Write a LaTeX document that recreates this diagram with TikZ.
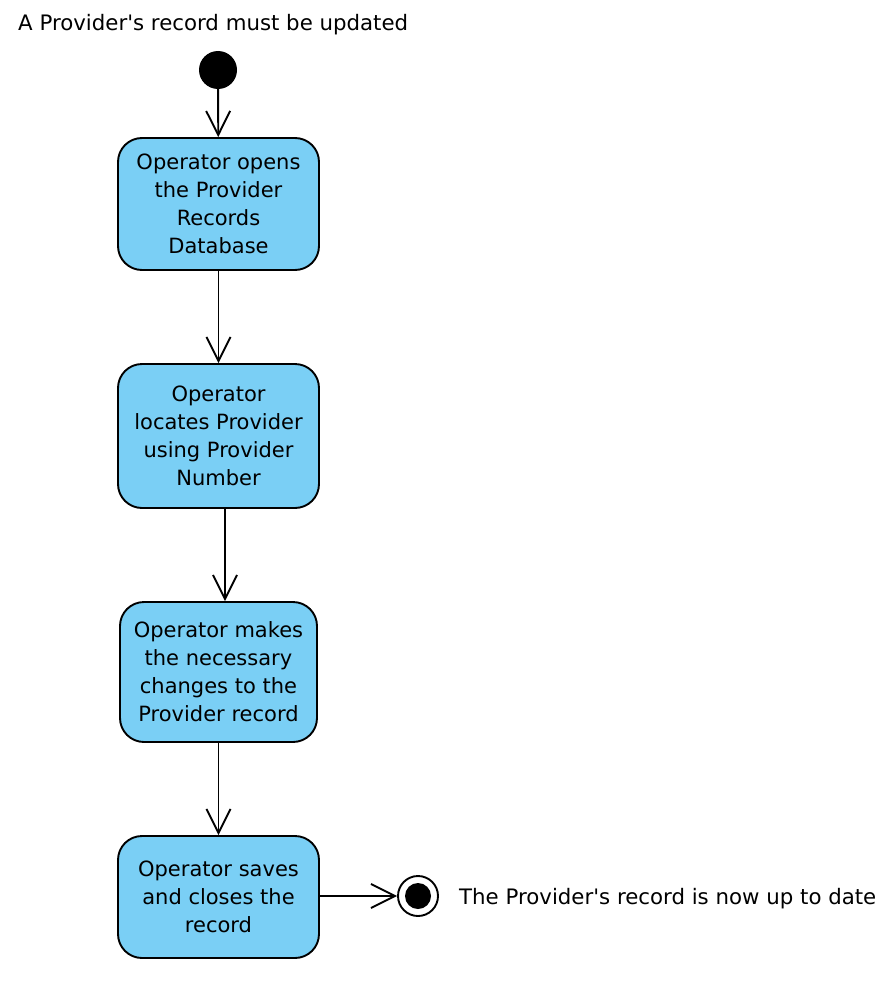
\documentclass[tikz,border=0pt]{standalone}
\usepackage{fontspec}
\setmainfont{DejaVu Sans}
\usetikzlibrary{arrows.meta,positioning}
\definecolor{actblue}{RGB}{122,207,245}

\begin{document}
\begin{tikzpicture}[x=1pt,y=-1pt]

		\tikzset{line/.style={draw,line width=1.9pt}}
		\tikzset{arrow/.style={line,-{Straight Barb[length=24pt,width=24pt,line width=1.9pt]}}}
		\tikzset{action/.style={line,fill=actblue,rounded corners=24pt,minimum width=201pt,align=center,inner sep=0pt,font=\fontsize{21}{28}\selectfont}}
		\tikzset{label/.style={inner sep=0pt,font=\fontsize{21.3}{28}\selectfont}}

		\useasboundingbox (0,0) rectangle (892,982);

		\node[label,anchor=west] (title) at (18,25) {A Provider\textquotesingle s record must be updated};

		\node[circle,fill=black,minimum size=38pt,inner sep=0pt] (start) at (218,70) {};

		\node[action,minimum height=132pt] (open) at (218.5,204) {Operator opens\\the Provider\\Records\\Database};
		\node[action,minimum height=144pt] (locate) at (218.5,436) {Operator\\locates Provider\\using Provider\\Number};
		\node[action,minimum height=140pt,minimum width=197pt] (change) at (218.5,672) {Operator makes\\the necessary\\changes to the\\Provider record};
		\node[action,minimum height=122pt] (save) at (218.5,897) {Operator saves\\and closes the\\record};

		\node[circle,line,minimum size=40pt,inner sep=0pt] (final) at (418,896) {};
		\node[circle,fill=black,minimum size=26pt,inner sep=0pt] (finaldot) at (final) {};

		\node[label,anchor=west] (done) at (459,899) {The Provider\textquotesingle s record is now up to date};

		\path[arrow] (start) to (open);
		\path[arrow] (open) to (locate);
		\path[arrow] ([xshift=6.5pt]locate.south) to ([xshift=6.5pt]change.north);
		\path[arrow] (change) to (save);
		\path[arrow] (save.east |- final) to (final);

	\end{tikzpicture}
\end{document}
